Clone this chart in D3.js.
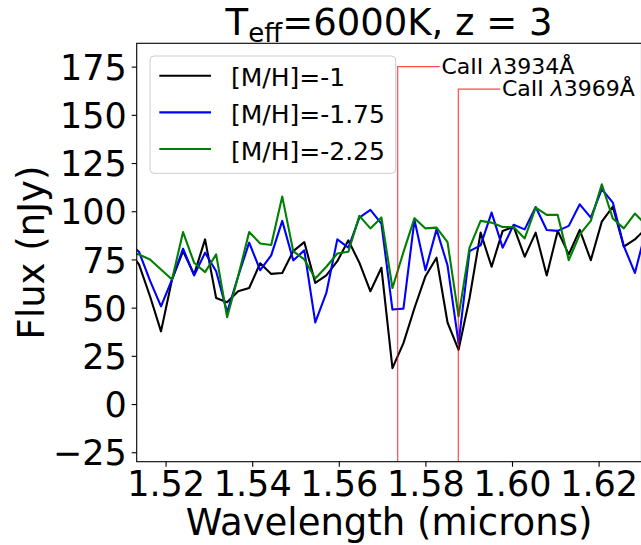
<!DOCTYPE html>
<html>
<head>
<meta charset="utf-8">
<script src="https://cdn.jsdelivr.net/npm/d3@7"></script>
<style>
  body { margin: 0; background: #fff; }
  svg { display: block; font-family: "DejaVu Sans", sans-serif; }
</style>
</head>
<body>
<svg id="chart" width="641" height="545"></svg>
<script>
// ---------- data ----------
const wavelength = [
  1.51130, 1.51385, 1.51640, 1.51894, 1.52149, 1.52403, 1.52658, 1.52912,
  1.53167, 1.53421, 1.53676, 1.53930, 1.54185, 1.54439, 1.54694, 1.54948,
  1.55203, 1.55457, 1.55712, 1.55966, 1.56221, 1.56475, 1.56730, 1.56984,
  1.57239, 1.57493, 1.57748, 1.58002, 1.58257, 1.58511, 1.58766, 1.59020,
  1.59275, 1.59529, 1.59784, 1.60038, 1.60293, 1.60547, 1.60802, 1.61056,
  1.61311, 1.61565, 1.61820, 1.62074, 1.62329, 1.62583, 1.62838, 1.63092
];
const fluxMH1 = [
  80, 72.4, 55.9, 37.7, 64.6, 79.3, 67.2, 85.4,
  55, 52.8, 58.5, 60.2, 73, 67.5, 68, 79.3,
  84, 62.8, 66.7, 74.1, 84.9, 73.3, 58.5, 70.7,
  18.6, 31.6, 49.8, 66.3, 75.9, 42.3, 28.1, 55,
  88.9, 71.2, 89.8, 92, 76.4, 88.9, 66.7, 89.8,
  77.6, 90.3, 74.6, 94.6, 102.4, 81.6, 85.4, 91
];
const fluxMH175 = [
  84, 79, 64, 50.7, 64.6, 80.6, 66.7, 78.5,
  68.9, 47.6, 66.3, 83.7, 69.4, 77.1, 95, 74.5,
  79.7, 42.3, 57.6, 85.4, 81.1, 96.7, 100.7, 93.6,
  49, 49.5, 95.5, 69.4, 90.6, 71.9, 31.6, 79.3,
  82.3, 99.3, 81.1, 93, 90.6, 102.2, 90.3, 89.8,
  92.4, 103.6, 96.7, 111.5, 104.5, 81.9, 68, 90
];
const fluxMH225 = [
  79, 77.6, 75, 69.8, 64.6, 89.2, 73.3, 68.4,
  77.6, 45, 66.3, 89.2, 83.3, 82.5, 107.6, 79.3,
  75, 65.1, 71.2, 78.1, 79, 97.6, 91.1, 96.8,
  60.2, 78.8, 96.4, 91.1, 91.5, 84, 45.5, 81.1,
  95, 94.1, 91.8, 91.8, 85.9, 101.9, 98.1, 98.1,
  74.6, 88, 95, 114, 96.2, 91.1, 98.8, 93
];
const seriesNames = ["[M/H]=-1", "[M/H]=-1.75", "[M/H]=-2.25"];
const seriesColors = ["#000000", "#0000ff", "#008000"];
const xTicks = [1.52, 1.54, 1.56, 1.58, 1.60, 1.62];
const yTicks = [-25, 0, 25, 50, 75, 100, 125, 150, 175];
const lineNames = ["CaII", "CaII"];
const lineWaves = [3934, 3969];
const lineObsX = [1.5736, 1.5876];
const lineLabelY = [175, 163.3];
const lineLabelDx = 0.0097;

// ---------- layout ----------
const svg = d3.select("#chart");
const L = 136.7, R = 641.5, T = 43.3, B = 461.7;
const x = d3.scaleLinear().domain([1.513326, 1.629908]).range([L, R]);
const y = d3.scaleLinear().domain([-29.9, 187.1]).range([B, T]);

svg.append("defs").append("clipPath").attr("id", "clip")
  .append("rect").attr("x", L).attr("y", T).attr("width", R - L).attr("height", B - T);

// data lines
const allSeries = [fluxMH1, fluxMH175, fluxMH225];
const line = d3.line().x((d, i) => x(wavelength[i])).y(d => y(d));
const g = svg.append("g").attr("clip-path", "url(#clip)");
allSeries.forEach((s, i) => {
  g.append("path").datum(s).attr("d", line)
    .attr("fill", "none").attr("stroke", seriesColors[i])
    .attr("stroke-width", 2.1).attr("stroke-linejoin", "round").attr("stroke-linecap", "butt");
});

// annotation lines
lineObsX.forEach((w, i) => {
  const path = d3.path();
  path.moveTo(x(w), y(-29.9));
  path.lineTo(x(w), y(lineLabelY[i]));
  path.lineTo(x(w + lineLabelDx), y(lineLabelY[i]));
  svg.append("path").attr("d", path.toString())
    .attr("fill", "none").attr("stroke", "red").attr("stroke-opacity", 0.7).attr("stroke-width", 1.2);
  const t = svg.append("text")
    .attr("x", x(w + lineLabelDx) + 1.7).attr("y", y(lineLabelY[i]) + 7)
    .attr("font-size", 22).attr("fill", "#000");
  t.append("tspan").text(lineNames[i] + " ");
  t.append("tspan").attr("font-style", "italic").text("λ");
  t.append("tspan").text(lineWaves[i] + "Å");
});

// axes
const xAxis = d3.axisBottom(x).tickValues(xTicks).tickFormat(d3.format(".2f"))
  .tickSize(5).tickPadding(4.5);
const yAxis = d3.axisLeft(y).tickValues(yTicks).tickFormat(d3.format("d"))
  .tickSize(5).tickPadding(5);
const gx = svg.append("g").attr("transform", `translate(0,${B})`).call(xAxis);
const gy = svg.append("g").attr("transform", `translate(${L},0)`).call(yAxis);
[gx, gy].forEach(a => {
  a.select(".domain").remove();
  a.selectAll(".tick line").attr("stroke", "#000").attr("stroke-width", 1.1);
  a.selectAll(".tick text").attr("font-size", 35).attr("font-family", "DejaVu Sans").attr("fill", "#000");
});
gy.selectAll(".tick text").attr("dy", "0.36em");

// frame
svg.append("rect").attr("x", L).attr("y", T).attr("width", R - L).attr("height", B - T)
  .attr("fill", "none").attr("stroke", "#000").attr("stroke-width", 1.1);

// labels
svg.append("text").attr("x", (L + R) / 2).attr("y", 535).attr("text-anchor", "middle")
  .attr("font-size", 37).text("Wavelength (microns)");
svg.append("text").attr("transform", `translate(43.8,${(T + B) / 2}) rotate(-90)`)
  .attr("text-anchor", "middle").attr("font-size", 37).text("Flux (nJy)");

const title = svg.append("text").attr("x", (L + R) / 2).attr("y", 35)
  .attr("text-anchor", "middle").attr("font-size", 37);
title.append("tspan").text("T");
title.append("tspan").attr("font-size", 26).attr("dy", 7).text("eff");
title.append("tspan").attr("dy", -7).text("=6000K, z = 3");

// legend
const lg = svg.append("g");
lg.append("rect").attr("x", 150).attr("y", 56).attr("width", 245.7).attr("height", 117.3)
  .attr("rx", 4).attr("fill", "#fff").attr("fill-opacity", 0.8)
  .attr("stroke", "#cccccc").attr("stroke-width", 1);
seriesNames.forEach((n, i) => {
  const ly = 75.7 + i * 36.65;
  lg.append("line").attr("x1", 159.3).attr("x2", 211).attr("y1", ly).attr("y2", ly)
    .attr("stroke", seriesColors[i]).attr("stroke-width", 2.1);
  lg.append("text").attr("x", 231).attr("y", ly + 10.6).attr("font-size", 25).text(n);
});
</script>
</body>
</html>
